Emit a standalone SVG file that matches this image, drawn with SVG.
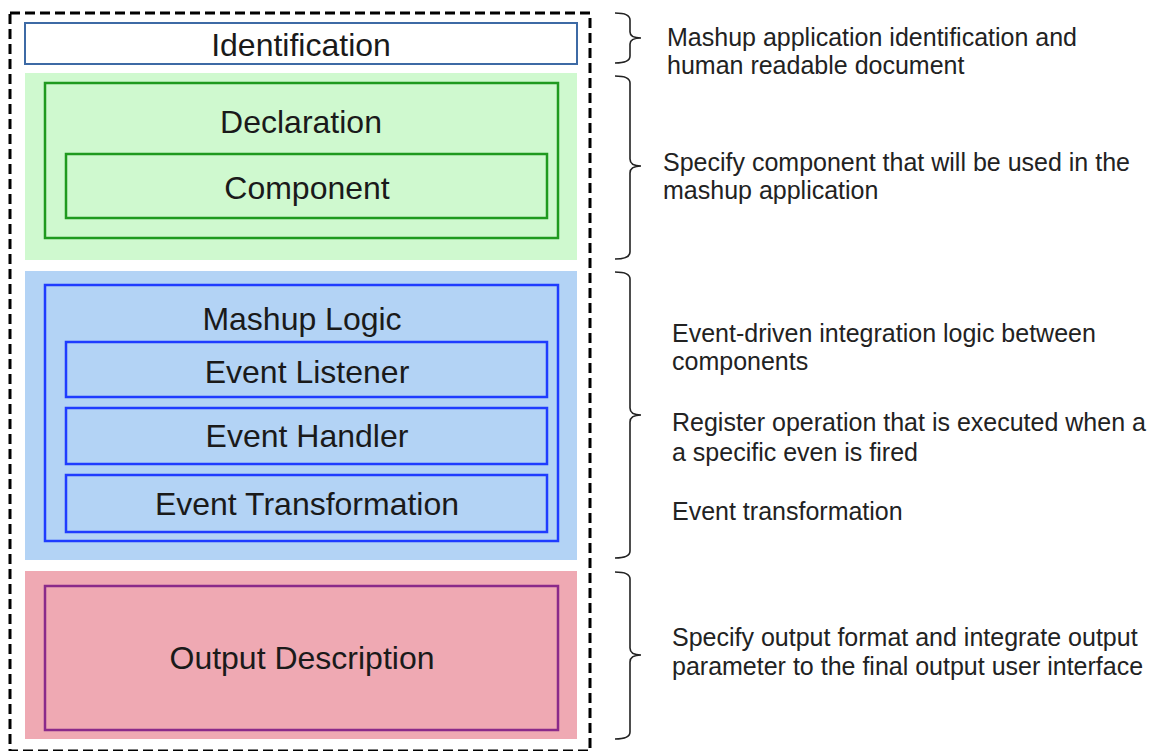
<svg xmlns="http://www.w3.org/2000/svg" width="1153" height="751" viewBox="0 0 1153 751">
<style>
.lbl{font-family:"Liberation Sans",Arial,sans-serif;font-size:32px;fill:#1a1a1a;text-anchor:middle}
.desc{font-family:"Liberation Sans",Arial,sans-serif;font-size:25px;fill:#222}
.brace{fill:none;stroke:#222;stroke-width:1.6}
.inG{fill:none;stroke:#1f9a1f;stroke-width:2.5}
.inB{fill:none;stroke:#1f3cff;stroke-width:2.5}
</style>
<rect x="0" y="0" width="1153" height="751" fill="#fff"/>
<g id="frame"><rect x="10" y="13" width="580" height="738" fill="none" stroke="#000" stroke-width="3" stroke-dasharray="10 5"/></g>
<g id="identification">
<rect x="25" y="23" width="552" height="41" fill="#fff" stroke="#3d6aa5" stroke-width="2"/>
<text class="lbl" x="301" y="56">Identification</text>
</g>
<g id="declaration">
<rect x="25" y="73" width="552" height="187" fill="#cff9cf"/>
<rect class="inG" x="45" y="83" width="513" height="155"/>
<text class="lbl" x="301" y="133">Declaration</text>
</g>
<g id="component">
<rect class="inG" x="66" y="154" width="481" height="64"/>
<text class="lbl" x="307" y="199">Component</text>
</g>
<g id="mashup-logic">
<rect x="25" y="271" width="552" height="289" fill="#b3d3f5"/>
<rect class="inB" x="45" y="285" width="513" height="256"/>
<text class="lbl" x="302" y="330">Mashup Logic</text>
</g>
<g id="event-listener">
<rect class="inB" x="66" y="342" width="481" height="55"/>
<text class="lbl" x="307" y="383">Event Listener</text>
</g>
<g id="event-handler">
<rect class="inB" x="66" y="408" width="481" height="56"/>
<text class="lbl" x="307" y="447">Event Handler</text>
</g>
<g id="event-transformation">
<rect class="inB" x="66" y="475" width="481" height="57"/>
<text class="lbl" x="307" y="515">Event Transformation</text>
</g>
<g id="output-description">
<rect x="25" y="571" width="552" height="168" fill="#efa9b3"/>
<rect x="45" y="586" width="513" height="144" fill="none" stroke="#8a2a8a" stroke-width="2.5"/>
<text class="lbl" x="302" y="669">Output Description</text>
</g>
<g id="connectors">
<path class="brace" d="M615,13 Q630,13 630,20 V32 Q630,38 641,38 Q630,38 630,44 V56 Q630,63 615,63"/>
<path class="brace" d="M615,76 Q630,76 630,83 V159 Q630,166 641,166 Q630,166 630,173 V252 Q630,259 615,259"/>
<path class="brace" d="M615,272 Q630,272 630,279 V408 Q630,415 641,415 Q630,415 630,422 V551 Q630,558 615,558"/>
<path class="brace" d="M615,572 Q630,572 630,579 V648 Q630,655 641,655 Q630,655 630,662 V732 Q630,739 615,739"/>
</g>
<g id="descriptions">
<text class="desc" x="667" y="46">Mashup application identification and</text>
<text class="desc" x="667" y="74">human readable document</text>
<text class="desc" x="663" y="171">Specify component that will be used in the</text>
<text class="desc" x="663" y="199">mashup application</text>
<text class="desc" x="672" y="342">Event-driven integration logic between</text>
<text class="desc" x="672" y="370">components</text>
<text class="desc" x="672" y="431">Register operation that is executed when a</text>
<text class="desc" x="672" y="461">a specific even is fired</text>
<text class="desc" x="672" y="520">Event transformation</text>
<text class="desc" x="672" y="646">Specify output format and integrate output</text>
<text class="desc" x="672" y="675">parameter to the final output user interface</text>
</g>
</svg>
